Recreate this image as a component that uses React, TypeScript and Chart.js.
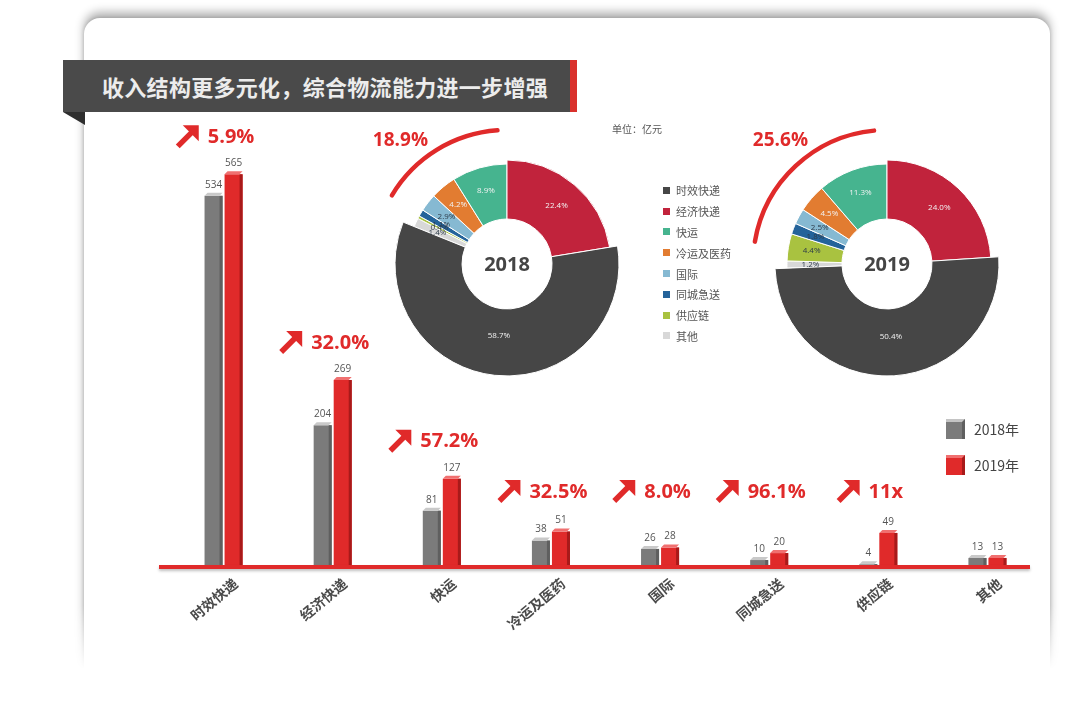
import React, { useEffect, useRef } from 'react';
import { Chart, registerables } from 'chart.js';

Chart.register(...registerables);

// Business lines (bar categories, doughnut slices and legend share this order)
const categories = ['时效快递', '经济快递', '快运', '冷运及医药', '国际', '同城急送', '供应链', '其他'];
// Revenue, 亿元
const revenue2018 = [534, 204, 81, 38, 26, 10, 4, 13];
const revenue2019 = [565, 269, 127, 51, 28, 20, 49, 13];
// Year-on-year growth callouts
const growthLabels = ['5.9%', '32.0%', '57.2%', '32.5%', '8.0%', '96.1%', '11x', ''];
const seriesNames = ['2018年', '2019年'];
const years = ['2018', '2019'];
const sliceColors = ['#464646', '#c1233c', '#46b48f', '#e27c31', '#86b9d2', '#24639a', '#a9c240', '#d8d8d8'];
const titleText = '收入结构更多元化，综合物流能力进一步增强';
const unitText = '单位：亿元';

const FONT_CJK = '"Noto Sans CJK SC", "Noto Sans", sans-serif';
const FONT_NUM = '"Open Sans", "Noto Sans", sans-serif';
const RED = '#e02a2a';
const GRAY = '#7b7b7b';

const pct1 = (v: number, total: number) => Math.round((v / total) * 1000) / 10;

function drawArrow(ctx: CanvasRenderingContext2D, sx: number, cy: number) {
  ctx.save();
  ctx.strokeStyle = RED;
  ctx.fillStyle = RED;
  ctx.lineWidth = 5.5;
  ctx.lineCap = 'butt';
  ctx.beginPath();
  ctx.moveTo(sx + 1, cy + 10);
  ctx.lineTo(sx + 15, cy - 4);
  ctx.stroke();
  ctx.beginPath();
  ctx.moveTo(sx + 22, cy - 11);
  ctx.lineTo(sx + 6, cy - 11);
  ctx.lineTo(sx + 22, cy + 5);
  ctx.closePath();
  ctx.fill();
  ctx.restore();
}

const barDecor = {
  id: 'barDecor',
  afterDatasetsDraw(chart: any) {
    const ctx: CanvasRenderingContext2D = chart.ctx;
    const yScale = chart.scales.y;
    const y0 = yScale.getPixelForValue(0);
    const area = chart.chartArea;

    // baseline
    ctx.save();
    ctx.shadowColor = 'rgba(0,0,0,0.25)';
    ctx.shadowBlur = 3;
    ctx.shadowOffsetY = 2;
    ctx.fillStyle = RED;
    ctx.fillRect(area.left - 10, y0 - 2, area.right - area.left - 2, 4);
    ctx.restore();

    const tops: number[] = [];
    chart.data.datasets.forEach((ds: any, di: number) => {
      const meta = chart.getDatasetMeta(di);
      meta.data.forEach((bar: any, i: number) => {
        const { x, y, width } = bar.getProps(['x', 'y', 'width'], true);
        const l = x - width / 2;
        const r = x + width / 2;
        tops[i] = tops[i] === undefined ? y : Math.min(tops[i], y);
        ctx.save();
        // side shading
        ctx.fillStyle = di === 0 ? '#5f5f5f' : '#a81a1a';
        ctx.fillRect(r - 3, y, 3, y0 - y - 2);
        // top face
        ctx.fillStyle = di === 0 ? '#c9c9c9' : '#f07070';
        ctx.beginPath();
        ctx.moveTo(l, y);
        ctx.lineTo(l + 3, y - 3);
        ctx.lineTo(r, y - 3);
        ctx.lineTo(r - 3, y);
        ctx.closePath();
        ctx.fill();
        // value label
        ctx.fillStyle = '#555';
        ctx.font = `10px ${FONT_NUM}`;
        ctx.textAlign = 'center';
        ctx.textBaseline = 'bottom';
        ctx.fillText(String(ds.data[i]), x, y - 6);
        ctx.restore();
      });
    });

    // growth callouts
    const xScale = chart.scales.x;
    growthLabels.forEach((label, i) => {
      if (!label) return;
      const cx = xScale.getPixelForValue(i);
      const ly = Math.min(tops[i] - 38, y0 - 76);
      ctx.save();
      ctx.font = `bold 20px ${FONT_NUM}`;
      const w = ctx.measureText(label).width;
      const total = 23 + 8 + w;
      const sx = cx - 8 - total / 2;
      drawArrow(ctx, sx, ly);
      ctx.fillStyle = RED;
      ctx.textAlign = 'left';
      ctx.textBaseline = 'middle';
      ctx.fillText(label, sx + 31, ly + 1);
      ctx.restore();
    });
  },
};

function BarChart() {
  const ref = useRef<HTMLCanvasElement>(null);
  useEffect(() => {
    if (!ref.current) return;
    const chart = new Chart(ref.current, {
      type: 'bar',
      data: {
        labels: categories,
        datasets: [
          { label: seriesNames[0], data: revenue2018, backgroundColor: GRAY },
          { label: seriesNames[1], data: revenue2019, backgroundColor: RED },
        ],
      },
      options: {
        responsive: false,
        animation: false,
        events: [],
        categoryPercentage: 0.367,
        barPercentage: 0.9,
        layout: { padding: { top: 150, left: 169, right: 38, bottom: 0 } },
        plugins: { legend: { display: false }, tooltip: { enabled: false } },
        scales: {
          x: {
            grid: { display: false, drawTicks: false },
            border: { display: false },
            ticks: {
              autoSkip: false,
              minRotation: 40,
              maxRotation: 40,
              padding: 8,
              labelOffset: 12,
              color: '#4a4a4a',
              font: { family: FONT_CJK, size: 14, weight: 'bold' },
            },
            afterFit(scale: any) {
              scale.height = 137;
            },
          },
          y: { display: false, min: 0, max: 600 },
        },
      } as any,
      plugins: [barDecor],
    });
    return () => chart.destroy();
  }, []);
  return (
    <canvas
      ref={ref}
      width={1080}
      height={704}
      style={{ position: 'absolute', left: 0, top: 0, width: 1080, height: 704 }}
    />
  );
}

function YearDonut({ year, values, left }: { year: string; values: number[]; left: number }) {
  const ref = useRef<HTMLCanvasElement>(null);
  useEffect(() => {
    if (!ref.current) return;
    const total = values.reduce((a, b) => a + b, 0);
    // clockwise from 12 o'clock: 其他 … 快运, then 经济快递, 时效快递
    const order = values.map((_, i) => i).reverse();
    const data = order.map((i) => values[i]);
    const colors = order.map((i) => sliceColors[i]);
    const otherShare = (total - values[0] - values[1]) / total;
    const otherLabel = (100 - pct1(values[0], total) - pct1(values[1], total)).toFixed(1) + '%';
    const extra = order.map((i) => (i === 0 ? 12 : i === 1 ? 4 : 0));
    const light = order.map((i) => i <= 3);

    const decor = {
      id: 'donutDecor',
      beforeDatasetDraw(chart: any) {
        const a = chart.chartArea;
        const base = Math.min(a.right - a.left, a.bottom - a.top) / 2;
        chart.getDatasetMeta(0).data.forEach((arc: any, k: number) => {
          arc.outerRadius = base + extra[k];
        });
      },
      afterDatasetDraw(chart: any) {
        const ctx: CanvasRenderingContext2D = chart.ctx;
        const a = chart.chartArea;
        const base = Math.min(a.right - a.left, a.bottom - a.top) / 2;
        chart.getDatasetMeta(0).data.forEach((arc: any, k: number) => {
          const mid = (arc.startAngle + arc.endAngle) / 2;
          const r = (arc.innerRadius + base) / 2 + (order[k] === 0 ? 0 : 4);
          const pct = pct1(data[k], total).toFixed(1) + '%';
          ctx.save();
          ctx.font = `8px ${FONT_NUM}`;
          ctx.fillStyle = light[k] ? '#f2f2f2' : '#2c3a48';
          ctx.textAlign = 'center';
          ctx.textBaseline = 'middle';
          ctx.fillText(pct, arc.x + r * Math.cos(mid), arc.y + r * Math.sin(mid));
          ctx.restore();
        });
      },
      afterDraw(chart: any) {
        const ctx: CanvasRenderingContext2D = chart.ctx;
        const arc0 = chart.getDatasetMeta(0).data[0];
        const cx = arc0.x;
        const cy = arc0.y;
        ctx.save();
        ctx.fillStyle = '#454545';
        ctx.font = `bold 20px ${FONT_NUM}`;
        ctx.textAlign = 'center';
        ctx.textBaseline = 'middle';
        ctx.fillText(year, cx, cy + 1);

        // arc spanning the non-express share
        const span = otherShare * Math.PI * 2;
        const a0 = -Math.PI / 2 - span + 0.13 * span;
        const a1 = -Math.PI / 2 - 0.06 * span;
        const R = 134;
        ctx.strokeStyle = RED;
        ctx.lineWidth = 4.5;
        ctx.lineCap = 'round';
        ctx.beginPath();
        ctx.arc(cx, cy, R, a0, a1);
        ctx.stroke();

        ctx.fillStyle = RED;
        ctx.font = `bold 19px ${FONT_NUM}`;
        ctx.textAlign = 'right';
        ctx.fillText(otherLabel, cx - 79, cy - 123);
        ctx.restore();
      },
    };

    const chart = new Chart(ref.current, {
      type: 'doughnut',
      data: {
        labels: order.map((i) => categories[i]),
        datasets: [{ data, backgroundColor: colors, borderColor: '#ffffff', borderWidth: 1 }],
      },
      options: {
        responsive: false,
        animation: false,
        events: [],
        cutout: 45,
        rotation: -otherShare * 360,
        layout: { padding: 50 },
        plugins: { legend: { display: false }, tooltip: { enabled: false } },
      } as any,
      plugins: [decor],
    });
    return () => chart.destroy();
  }, []);
  return (
    <canvas
      ref={ref}
      width={300}
      height={300}
      style={{ position: 'absolute', left, top: 114, width: 300, height: 300 }}
    />
  );
}

export default function App() {
  return (
    <div
      style={{
        position: 'absolute',
        left: 0,
        top: 0,
        width: 1080,
        height: 704,
        overflow: 'hidden',
        background: '#fff',
        fontFamily: FONT_CJK,
      }}
    >
      {/* card with soft shadow fading out at the bottom */}
      <div
        style={{
          position: 'absolute',
          inset: 0,
          WebkitMaskImage: 'linear-gradient(to bottom, #000 0%, #000 86%, transparent 95%)',
          maskImage: 'linear-gradient(to bottom, #000 0%, #000 86%, transparent 95%)',
        }}
      >
        <div
          style={{
            position: 'absolute',
            left: 84,
            top: 18,
            width: 966,
            height: 720,
            borderRadius: 16,
            background: '#fff',
            boxShadow: '0 -6px 10px rgba(0,0,0,0.3), 0 0 4px rgba(0,0,0,0.18)',
          }}
        />
      </div>

      {/* title banner */}
      <div
        style={{
          position: 'absolute',
          left: 63,
          top: 60,
          width: 514,
          height: 52,
          boxSizing: 'border-box',
          background: '#4a4a4a',
          borderRight: '7px solid #d9312c',
          color: '#ececec',
          fontSize: 22,
          fontWeight: 700,
          lineHeight: '52px',
          paddingLeft: 39,
          letterSpacing: 0.3,
          whiteSpace: 'nowrap',
        }}
      >
        {titleText}
      </div>
      <div
        style={{
          position: 'absolute',
          left: 63,
          top: 112,
          width: 0,
          height: 0,
          borderTop: '13px solid #2e2e2e',
          borderLeft: '22px solid transparent',
        }}
      />

      <BarChart />
      <YearDonut year={years[0]} values={revenue2018} left={357} />
      <YearDonut year={years[1]} values={revenue2019} left={737} />

      {/* unit */}
      <div style={{ position: 'absolute', left: 612, top: 121, fontSize: 10, color: '#555', whiteSpace: 'nowrap' }}>
        {unitText}
      </div>

      {/* slice legend */}
      <div style={{ position: 'absolute', left: 663, top: 180 }}>
        {categories.map((c, i) => (
          <div key={c} style={{ display: 'flex', alignItems: 'center', height: 20.8 }}>
            <div style={{ width: 7, height: 7, background: sliceColors[i], marginRight: 6 }} />
            <span style={{ fontSize: 11, color: '#555', whiteSpace: 'nowrap' }}>{c}</span>
          </div>
        ))}
      </div>

      {/* series legend */}
      {seriesNames.map((n, i) => (
        <div
          key={n}
          style={{ position: 'absolute', left: 946, top: i === 0 ? 419 : 455, display: 'flex', alignItems: 'center' }}
        >
          <div
            style={{
              width: 16,
              height: 17,
              background: i === 0 ? GRAY : RED,
              borderTop: `3px solid ${i === 0 ? '#c4c4c4' : '#f07070'}`,
              borderRight: `3px solid ${i === 0 ? '#5f5f5f' : '#a81a1a'}`,
              marginRight: 9,
            }}
          />
          <span style={{ fontSize: 14, color: '#444', whiteSpace: 'nowrap' }}>{n}</span>
        </div>
      ))}
    </div>
  );
}
